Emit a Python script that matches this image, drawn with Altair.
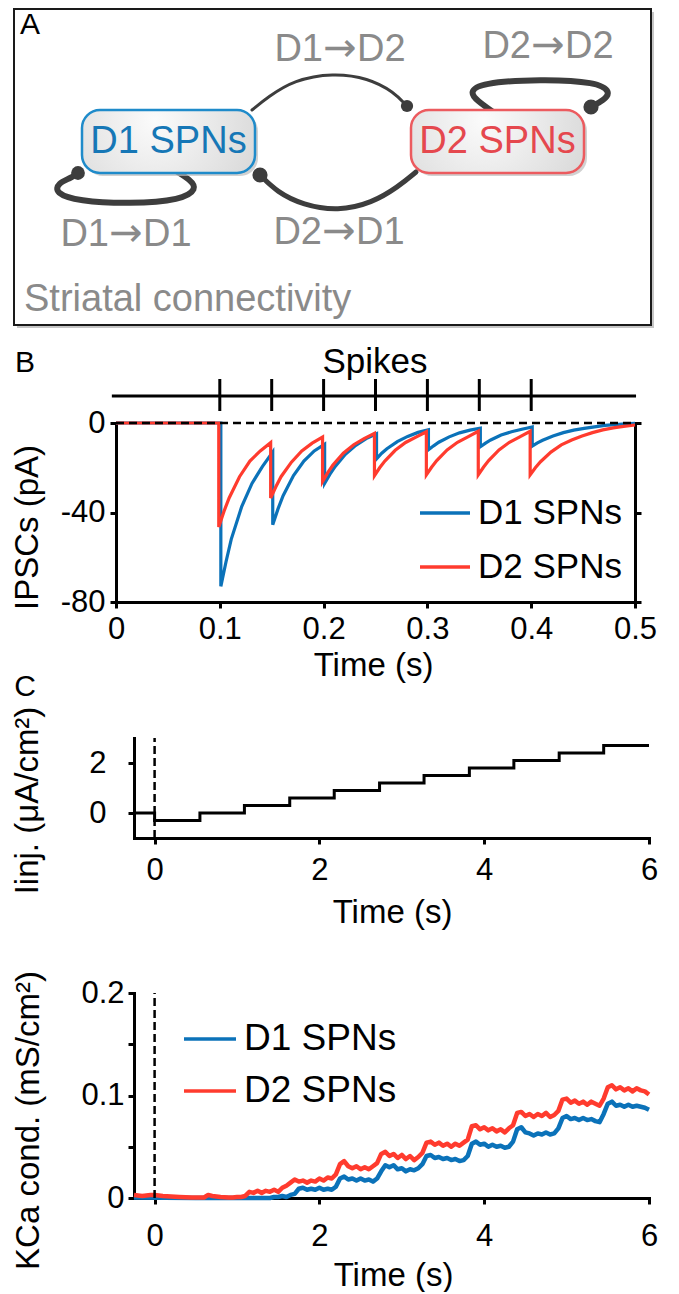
import altair as alt
import pandas as pd

FONT = "Liberation Sans, Arial, Helvetica, sans-serif"
ARROW_FONT = "DejaVu Sans, Liberation Sans, sans-serif"
BLUE = "#0b72b9"
RED = "#ff3b2e"
INK = "#3d3d3d"
GREY = "#8a8a8a"
W = 660

# ---------------- Panel A: schematic (block pixel units) ----------------
frame_box = {"x": [6], "x2": [643], "y": [1], "y2": [317]}
node_names = ["D1 SPNs", "D2 SPNs"]
node_x1 = [74, 403]
node_x2 = [247, 576]
node_y1 = [102, 102]
node_y2 = [165, 165]
node_edge = ["#1f8bca", "#ec5b5f"]
node_ink = ["#1677b6", "#e5484e"]

conn_from = ["D1", "D2", "D1", "D2"]
conn_to = ["D2", "D2", "D1", "D1"]
conn_x = [332, 540, 118, 331]
conn_y = [42, 39, 227, 225]

arc_names = ["D1→D2", "D2→D1", "D1→D1", "D2→D2"]
arc_width = [3, 5, 6, 6]
arc_x = [
    [244, 260, 286, 325, 360, 386, 399],
    [408, 390, 364, 330, 295, 269, 252],
    [163, 183, 189, 174, 122, 70, 47, 50, 63, 70],
    [488, 468, 462, 472, 533, 589, 603, 596, 583],
]
arc_y = [
    [102, 89, 72, 65, 70, 84, 98],
    [164, 179, 195, 203, 197, 184, 167],
    [160, 172, 181, 192, 196, 193, 185, 175, 170, 165],
    [106, 92, 84, 75, 71, 74, 84, 92, 99],
]
dot_x = [399, 252, 70, 583]
dot_y = [98, 167, 165, 99]
dot_size = [150, 230, 190, 230]

# ---------------- Panel B: IPSCs ----------------
spike_times = [0.1, 0.15, 0.2, 0.25, 0.3, 0.35, 0.4]
raster_extent = [-0.004, 0.501]
ipsc_d1_t = [0.0, 0.101,
             0.101, 0.106, 0.111, 0.121, 0.131, 0.141, 0.151,
             0.151, 0.156, 0.161, 0.171, 0.181, 0.191, 0.201,
             0.201, 0.206, 0.211, 0.221, 0.231, 0.241, 0.251,
             0.251, 0.256, 0.261, 0.271, 0.281, 0.291, 0.301,
             0.301, 0.306, 0.311, 0.321, 0.331, 0.341, 0.351,
             0.351, 0.356, 0.361, 0.371, 0.381, 0.391, 0.401,
             0.401, 0.406, 0.411, 0.421, 0.431, 0.441, 0.451, 0.461, 0.471, 0.481, 0.491, 0.5]
ipsc_d1_v = [0, 0,
             -73, -62, -52, -37.5, -27, -19.5, -13,
             -45.5, -38.5, -32.5, -23.5, -17, -12.5, -9.5,
             -27, -23, -19.5, -14, -10, -7, -4.8,
             -16, -13.5, -11.5, -8.3, -6, -4.2, -3,
             -12, -10.2, -8.6, -6.2, -4.4, -3.2, -2.3,
             -10.6, -9, -7.6, -5.4, -3.9, -2.8, -1.8,
             -10.3, -8.9, -7.7, -5.8, -4.3, -3.2, -2.4, -1.7, -1.1, -0.7, -0.4, -0.2]
ipsc_d2_t = [0.0, 0.099,
             0.099, 0.104, 0.109, 0.119, 0.129, 0.139, 0.149,
             0.149, 0.154, 0.159, 0.169, 0.179, 0.189, 0.199,
             0.199, 0.204, 0.209, 0.219, 0.229, 0.239, 0.249,
             0.249, 0.254, 0.259, 0.269, 0.279, 0.289, 0.299,
             0.299, 0.304, 0.309, 0.319, 0.329, 0.339, 0.349,
             0.349, 0.354, 0.359, 0.369, 0.379, 0.389, 0.399,
             0.399, 0.404, 0.409, 0.419, 0.429, 0.439, 0.449, 0.459, 0.469, 0.479, 0.489, 0.5]
ipsc_d2_v = [0, 0,
             -46.5, -39.5, -33.5, -24, -17, -12.5, -8.8,
             -33.5, -28.5, -24, -17.5, -12.5, -9, -6.3,
             -26.2, -22.2, -18.8, -13.5, -9.7, -7, -4.6,
             -23.5, -20, -17, -12.2, -8.7, -6.3, -3.9,
             -23.2, -19.8, -16.8, -12, -8.6, -6.2, -3.7,
             -23.2, -19.8, -16.8, -12, -8.6, -6.2, -3.7,
             -23.2, -20, -17.3, -13, -9.8, -7.6, -5.8, -4.3, -3.1, -2.2, -1.5, -0.9]
ipsc_ticks = [0, 0.1, 0.2, 0.3, 0.4, 0.5]
ipsc_yticks = [0, -40, -80]

# ---------------- Panel C top: injected current ----------------
iinj_t = [-0.25, 0.0, 0.55, 1.09, 1.64, 2.18, 2.73, 3.27, 3.82, 4.36, 4.91, 5.45, 6.0]
iinj_v = [0.0, -0.3, 0.0, 0.3, 0.6, 0.9, 1.2, 1.5, 1.8, 2.1, 2.4, 2.7, 2.7]
time_ticks = [0, 2, 4, 6]

# ---------------- Panel C bottom: KCa conductance ----------------
kca_early_t_d2 = [-0.25, -0.15, -0.05, 0.0, 0.1, 0.2, 0.3, 0.45, 0.6, 0.65, 0.7, 0.8, 0.9, 0.95]
kca_early_v_d2 = [0.003, 0.002, 0.003, 0.003, 0.002, 0.0015, 0.001, 0.0005, 0.0005, 0.003, 0.002, 0.001, 0.0005, 0.0005]
kca_early_t_d1 = [-0.25, 0.5, 0.95]
kca_early_v_d1 = [0.0005, 0.0, 0.0]
kca_t = [round(1.0 + 0.05 * k, 2) for k in range(101)]
kca_d2 = [0.001, 0.001, 0.002, 0.006, 0.005, 0.007, 0.005, 0.007, 0.006, 0.008,
          0.006, 0.010, 0.012, 0.015, 0.018, 0.016, 0.017, 0.015, 0.017, 0.016,
          0.019, 0.017, 0.020, 0.019, 0.023, 0.033, 0.036, 0.031, 0.029, 0.031,
          0.028, 0.030, 0.028, 0.031, 0.034, 0.043, 0.045, 0.041, 0.043, 0.039,
          0.042, 0.038, 0.041, 0.037, 0.040, 0.044, 0.054, 0.055, 0.052, 0.054,
          0.051, 0.053, 0.050, 0.053, 0.051, 0.054, 0.057, 0.070, 0.071, 0.067,
          0.069, 0.066, 0.068, 0.065, 0.067, 0.064, 0.068, 0.071, 0.083, 0.084,
          0.080, 0.082, 0.079, 0.082, 0.080, 0.083, 0.079, 0.081, 0.085, 0.096,
          0.097, 0.093, 0.095, 0.092, 0.094, 0.091, 0.094, 0.092, 0.090, 0.097,
          0.108, 0.110, 0.106, 0.108, 0.105, 0.107, 0.104, 0.107, 0.105, 0.104,
          0.101]
kca_d1 = [0.0, 0.0, 0.0, 0.0, 0.0, 0.0, 0.0, 0.0, 0.0, 0.001,
          0.001, 0.002, 0.001, 0.003, 0.004, 0.009, 0.010, 0.008, 0.009, 0.008,
          0.010, 0.008, 0.009, 0.008, 0.011, 0.019, 0.021, 0.018, 0.019, 0.017,
          0.019, 0.017, 0.018, 0.016, 0.019, 0.026, 0.032, 0.030, 0.032, 0.028,
          0.029, 0.026, 0.028, 0.027, 0.029, 0.033, 0.041, 0.042, 0.039, 0.040,
          0.038, 0.039, 0.037, 0.038, 0.036, 0.037, 0.041, 0.053, 0.055, 0.052,
          0.053, 0.050, 0.052, 0.050, 0.051, 0.049, 0.050, 0.055, 0.067, 0.069,
          0.064, 0.063, 0.061, 0.063, 0.062, 0.064, 0.062, 0.063, 0.068, 0.078,
          0.080, 0.077, 0.078, 0.076, 0.078, 0.076, 0.077, 0.075, 0.074, 0.082,
          0.092, 0.094, 0.090, 0.091, 0.089, 0.091, 0.089, 0.090, 0.089, 0.088,
          0.086]
kca_yticks = [0, 0.05, 0.1, 0.15, 0.2]

series_names = ["D1 SPNs", "D2 SPNs"]


def txt(text, x, y, size, color="black", align="center", baseline="middle"):
    return alt.Chart(pd.DataFrame({"label": [text]})).mark_text(
        font=FONT, fontSize=size, color=color, align=align, baseline=baseline
    ).encode(x=alt.value(x), y=alt.value(y), text="label:N")


def legend(x, y, size, font_size, row_pad):
    return alt.Legend(orient="none", legendX=x, legendY=y, title=None,
                      symbolType="stroke", symbolSize=size, symbolStrokeWidth=3.5,
                      labelFont=FONT, labelFontSize=font_size, labelColor="black",
                      labelOffset=6, labelLimit=400, rowPadding=row_pad, padding=0)


# ======================= Panel A =======================
sxa = alt.Scale(domain=[0, W], nice=False, zero=False)
sya = alt.Scale(domain=[0, 318], reverse=True, nice=False, zero=False)
xa = alt.X("x:Q", scale=sxa, axis=None)
ya = alt.Y("y:Q", scale=sya, axis=None)

frame_df = pd.DataFrame(frame_box)
frame_shadow = alt.Chart(frame_df).mark_rect(
    fill="#c6c6c6", xOffset=3, x2Offset=3, yOffset=3, y2Offset=3
).encode(x=xa, x2="x2:Q", y=ya, y2="y2:Q")
frame = alt.Chart(frame_df).mark_rect(fill="white", stroke="#1a1a1a", strokeWidth=2).encode(
    x=xa, x2="x2:Q", y=ya, y2="y2:Q")

arc_rows = []
for name, w, xs, ys in zip(arc_names, arc_width, arc_x, arc_y):
    for k, (px, py) in enumerate(zip(xs, ys)):
        arc_rows.append({"arc": name, "w": w, "k": k, "x": px, "y": py})
arcs_df = pd.DataFrame(arc_rows)
arcs = alt.Chart(arcs_df).mark_line(interpolate="basis", color=INK, strokeCap="round").encode(
    x=xa, y=ya, detail="arc:N", order="k:Q",
    strokeWidth=alt.StrokeWidth("w:Q", scale=None))

nodes_df = pd.DataFrame({
    "name": node_names, "x": node_x1, "x2": node_x2, "y": node_y1, "y2": node_y2,
    "edge": node_edge, "ink": node_ink,
})
nodes_df["cx"] = (nodes_df["x"] + nodes_df["x2"]) / 2
nodes_df["cy"] = (nodes_df["y"] + nodes_df["y2"]) / 2
node_shadow = alt.Chart(nodes_df).mark_rect(
    cornerRadius=18, fill="#bdbdbd", opacity=0.7,
    xOffset=3, x2Offset=3, yOffset=3, y2Offset=3
).encode(x=xa, x2="x2:Q", y=ya, y2="y2:Q")
node_body = alt.Chart(nodes_df).mark_rect(
    cornerRadius=18, strokeWidth=2.5,
    fill={"gradient": "radial", "x1": 0.42, "y1": 0.38, "r1": 0,
          "x2": 0.42, "y2": 0.38, "r2": 0.75,
          "stops": [{"offset": 0, "color": "#fbfbfb"}, {"offset": 1, "color": "#d3d3d3"}]}
).encode(x=xa, x2="x2:Q", y=ya, y2="y2:Q", stroke=alt.Stroke("edge:N", scale=None))
node_text = alt.Chart(nodes_df).mark_text(font=FONT, fontSize=38).encode(
    x=alt.X("cx:Q", scale=sxa, axis=None), y=alt.Y("cy:Q", scale=sya, axis=None),
    text="name:N", color=alt.Color("ink:N", scale=None))

dots_df = pd.DataFrame({"x": dot_x, "y": dot_y, "s": dot_size})
dots = alt.Chart(dots_df).mark_circle(color=INK, opacity=1).encode(
    x=xa, y=ya, size=alt.Size("s:Q", scale=None))

conn_df = pd.DataFrame({"x": conn_x, "y": conn_y, "src": conn_from, "dst": conn_to})
conn_df["arrow"] = "→"
conn_src = alt.Chart(conn_df).mark_text(font=FONT, fontSize=38, color=GREY, align="right", dx=-17).encode(
    x=xa, y=ya, text="src:N")
conn_dst = alt.Chart(conn_df).mark_text(font=FONT, fontSize=38, color=GREY, align="left", dx=17).encode(
    x=xa, y=ya, text="dst:N")
conn_arrow = alt.Chart(conn_df).mark_text(font=ARROW_FONT, fontSize=40, color=GREY, align="center", dy=-1).encode(
    x=xa, y=ya, text="arrow:N")

panel_a = alt.layer(
    frame_shadow, frame, arcs, node_shadow, node_body, node_text, dots,
    conn_src, conn_arrow, conn_dst,
    txt("Striatal connectivity", 16, 292, 38, GREY, align="left"),
    txt("A", 22, 17, 30),
).properties(width=W, height=318)

# ======================= Panel B =======================
HB = 276
xb_scale = alt.Scale(domain=[0, 0.5], range=[108, 627], nice=False, zero=False)
yb_scale = alt.Scale(domain=[-80, 0], range=[HB, 97], nice=False, zero=False)

ipsc_rows = []
for name, ts, vs in [("D1 SPNs", ipsc_d1_t, ipsc_d1_v), ("D2 SPNs", ipsc_d2_t, ipsc_d2_v)]:
    for k, (t, v) in enumerate(zip(ts, vs)):
        ipsc_rows.append({"series": name, "k": k, "t": t, "v": v})
ipsc_df = pd.DataFrame(ipsc_rows)

traces_b = alt.Chart(ipsc_df).mark_line(strokeWidth=3.2).encode(
    x=alt.X("t:Q", scale=xb_scale, axis=alt.Axis(
        values=ipsc_ticks, labelExpr="datum.value + ''", title="Time (s)",
        titleX=365, titleY=63, titleAlign="center", titleBaseline="middle", labelPadding=6)),
    y=alt.Y("v:Q", scale=yb_scale, axis=alt.Axis(
        orient="left", offset=-108, values=ipsc_yticks, labelExpr="datum.value + ''",
        title="IPSCs (pA)", titleX=-89, titleY=201, titleAngle=270,
        titleAlign="center", titleBaseline="middle", labelPadding=5)),
    color=alt.Color("series:N", scale=alt.Scale(domain=series_names, range=[BLUE, RED]),
                    legend=legend(410, 160, 2500, 35, 9)),
    order=alt.Order("k:Q"),
)

zero_df = pd.DataFrame({"t": [0.0], "t2": [0.5], "v": [0.0]})
zero_b = alt.Chart(zero_df).mark_rule(color="black", strokeWidth=2.5, strokeDash=[8, 5]).encode(
    x=alt.X("t:Q", scale=xb_scale), x2="t2:Q",
    y=alt.Y("v:Q", scale=yb_scale, axis=alt.Axis(
        orient="right", offset=-(W - 627), values=ipsc_yticks, labels=False, title="")))

raster_line = alt.Chart(pd.DataFrame({"t": [raster_extent[0]], "t2": [raster_extent[1]]})).mark_rule(
    color="black", strokeWidth=3).encode(x=alt.X("t:Q", scale=xb_scale), x2="t2:Q", y=alt.value(70))
raster_ticks = alt.Chart(pd.DataFrame({"t": spike_times})).mark_rule(
    color="black", strokeWidth=3).encode(x=alt.X("t:Q", scale=xb_scale), y=alt.value(53), y2=alt.value(85))

panel_b = alt.layer(
    traces_b, zero_b, raster_line, raster_ticks,
    txt("Spikes", 367, 36, 35), txt("B", 17, 37, 30),
).resolve_axis(y="independent").properties(width=W, height=HB)

# ======================= Panel C1 =======================
HC1 = 236
xc_scale = alt.Scale(domain=[-0.25, 6], range=[126, 641], nice=False, zero=False)
yc1_scale = alt.Scale(domain=[-1, 3], range=[HC1, 136], nice=False, zero=False)

iinj_df = pd.DataFrame({"t": iinj_t, "v": iinj_v})
step = alt.Chart(iinj_df).mark_line(interpolate="step-after", color="black", strokeWidth=3).encode(
    x=alt.X("t:Q", scale=xc_scale, axis=alt.Axis(
        values=time_ticks, labelExpr="datum.value + ''", title="Time (s)",
        titleX=384, titleY=74, titleAlign="center", titleBaseline="middle", labelPadding=11)),
    y=alt.Y("v:Q", scale=yc1_scale, axis=alt.Axis(
        orient="left", offset=-126, values=[0, 2], labelExpr="datum.value + ''",
        title="Iinj. (μA/cm²)", titleX=-107, titleY=198, titleAngle=270,
        titleAlign="center", titleBaseline="middle", labelPadding=22)),
)
dash_c1 = alt.Chart(pd.DataFrame({"t": [0.0], "v": [-1.0], "v2": [3.0]})).mark_rule(
    color="black", strokeWidth=2.5, strokeDash=[8, 4]).encode(
    x=alt.X("t:Q", scale=xc_scale), y=alt.Y("v:Q", scale=yc1_scale), y2="v2:Q")

panel_c1 = alt.layer(step, dash_c1, txt("C", 17, 85, 30)).properties(width=W, height=HC1)

# ======================= Panel C2 =======================
HC2 = 360
yc2_scale = alt.Scale(domain=[0, 0.2], range=[HC2, 155], nice=False, zero=False)

kca_rows = []
for name, ts, vs in [("D1 SPNs", kca_early_t_d1 + kca_t, kca_early_v_d1 + kca_d1),
                     ("D2 SPNs", kca_early_t_d2 + kca_t, kca_early_v_d2 + kca_d2)]:
    for k, (t, v) in enumerate(zip(ts, vs)):
        kca_rows.append({"series": name, "k": k, "t": t, "v": v})
kca_df = pd.DataFrame(kca_rows)

traces_c2 = alt.Chart(kca_df).mark_line(strokeWidth=4.5, strokeJoin="round").encode(
    x=alt.X("t:Q", scale=xc_scale, axis=alt.Axis(
        values=time_ticks, labelExpr="datum.value + ''", title="Time (s)",
        titleX=385, titleY=77, titleAlign="center", titleBaseline="middle", labelPadding=17)),
    y=alt.Y("v:Q", scale=yc2_scale, axis=alt.Axis(
        orient="left", offset=-126, values=kca_yticks,
        labelExpr="(datum.value == 0.05 || datum.value == 0.15) ? '' : datum.value + ''",
        title="KCa cond. (mS/cm²)", titleX=-106, titleY=282, titleAngle=270,
        titleAlign="center", titleBaseline="middle", labelPadding=4)),
    color=alt.Color("series:N", scale=alt.Scale(domain=series_names, range=[BLUE, RED]),
                    legend=legend(174, 173, 2704, 37, 6)),
    order=alt.Order("k:Q"),
)
dash_c2 = alt.Chart(pd.DataFrame({"t": [0.0], "v": [0.0], "v2": [0.2]})).mark_rule(
    color="black", strokeWidth=2.5, strokeDash=[8, 4]).encode(
    x=alt.X("t:Q", scale=xc_scale), y=alt.Y("v:Q", scale=yc2_scale), y2="v2:Q")

panel_c2 = alt.layer(traces_c2, dash_c2).properties(width=W, height=HC2)

# ======================= Assemble =======================
chart = alt.vconcat(
    panel_a, panel_b, panel_c1, panel_c2, spacing=0, bounds="flush"
).resolve_scale(
    x="independent", y="independent", color="independent"
).resolve_legend(color="independent").properties(
    padding={"left": 0, "top": 0, "right": 0, "bottom": 0}
).configure_view(strokeWidth=0).configure_axis(
    domainColor="black", domainWidth=3, domainCap="square",
    tickColor="black", tickWidth=3, tickSize=6,
    labelColor="black", titleColor="black",
    labelFont=FONT, titleFont=FONT, labelFontSize=31, titleFontSize=33,
    titleFontWeight="normal", grid=False, labelFlush=False, labelOverlap=False,
)

chart.save("out.html", embed_options={"renderer": "svg", "actions": False})
